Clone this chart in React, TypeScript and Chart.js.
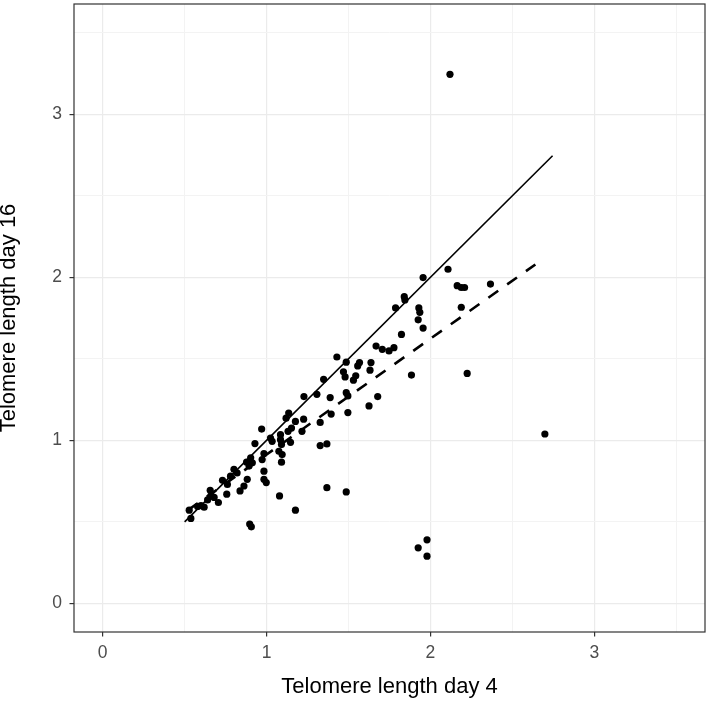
import React, { useEffect, useRef } from "react";
import { Chart, registerables } from "chart.js";

Chart.register(...registerables);

// Telomere length day 4 (x) and day 16 (y)
const day4 = [
  0.528, 0.538, 0.579, 0.619, 0.640, 0.656, 0.660, 0.706, 0.731, 0.761,
  0.757, 0.801, 0.838, 0.862, 0.882, 0.878, 0.680, 0.600, 0.780, 0.820,
  0.903, 0.913, 0.893, 0.929, 0.970, 0.984, 0.973, 0.984, 0.984, 0.998,
  1.024, 1.034, 1.085, 1.085, 1.091, 1.075, 1.095, 1.091, 1.146, 1.079,
  1.135, 1.119, 1.176, 1.226, 1.152, 1.131, 1.216, 1.228, 1.307, 1.327,
  1.327, 0.897, 0.907, 1.176, 1.368, 1.368, 1.486, 1.348, 1.388, 1.394,
  1.429, 1.486, 1.567, 1.556, 1.637, 1.631, 1.469, 1.479, 1.544, 1.530,
  1.486, 1.496, 1.678, 1.625, 1.496, 1.668, 1.706, 1.747, 1.777, 1.823,
  1.884, 2.224, 1.787, 1.840, 1.844, 1.929, 1.935, 1.925, 1.955, 1.955,
  2.107, 2.163, 2.188, 2.208, 2.366, 2.188, 2.698, 1.925, 1.979, 1.979,
  2.119,
];
const day16 = [
  0.572, 0.521, 0.595, 0.590, 0.635, 0.694, 0.659, 0.619, 0.755, 0.730,
  0.670, 0.822, 0.690, 0.720, 0.761, 0.866, 0.650, 0.600, 0.780, 0.800,
  0.893, 0.862, 0.842, 0.980, 1.069, 0.919, 0.882, 0.811, 0.761, 0.741,
  1.014, 0.994, 1.035, 1.004, 0.974, 0.933, 0.913, 0.866, 0.988, 0.659,
  1.167, 1.136, 1.116, 1.130, 1.075, 1.055, 1.055, 1.268, 1.282, 1.110,
  0.968, 0.487, 0.470, 0.572, 0.978, 0.710, 0.684, 1.374, 1.262, 1.161,
  1.511, 1.479, 1.477, 1.456, 1.477, 1.430, 1.420, 1.389, 1.396, 1.369,
  1.292, 1.272, 1.268, 1.211, 1.170, 1.578, 1.558, 1.548, 1.568, 1.649,
  1.400, 1.410, 1.812, 1.881, 1.861, 1.812, 1.785, 1.739, 1.688, 1.998,
  2.049, 1.948, 1.937, 1.937, 1.958, 1.816, 1.039, 0.341, 0.390, 0.290,
  3.244,
];

// identity line (solid) and fitted line (dashed)
const identityX = [0.5, 2.745];
const identityY = [0.5, 2.745];
const fitX = [0.52, 2.64];
const fitY = [0.572, 2.078];

const majorTicks = [0, 1, 2, 3];
const minorTicks = [0.5, 1.5, 2.5, 3.5];
const axisMin = -0.175;
const axisMax = 3.675;

const xTitle = "Telomere length day 4";
const yTitle = "Telomere length day 16";

const FONT = "'Liberation Sans', Arial, Helvetica, sans-serif";

const isMajor = (v: number) => majorTicks.includes(v);

const borderPlugin = {
  id: "panelBorder",
  afterDatasetsDraw(chart: any) {
    const { ctx, chartArea } = chart;
    ctx.save();
    ctx.strokeStyle = "#333333";
    ctx.lineWidth = 1.2;
    ctx.strokeRect(
      chartArea.left,
      chartArea.top,
      chartArea.right - chartArea.left,
      chartArea.bottom - chartArea.top
    );
    ctx.restore();
  },
};

export default function App() {
  const ref = useRef<HTMLCanvasElement | null>(null);

  useEffect(() => {
    if (!ref.current) return;
    const allTicks = [...majorTicks, ...minorTicks].sort((a, b) => a - b);
    const gridOpts = {
      drawOnChartArea: true,
      drawTicks: true,
      tickLength: 4.5,
      tickWidth: 1.2,
      color: (c: any) => (c.tick && isMajor(c.tick.value) ? "#EBEBEB" : "#F3F3F3"),
      lineWidth: (c: any) => (c.tick && isMajor(c.tick.value) ? 1.2 : 1),
      tickColor: (c: any) => (c.tick && isMajor(c.tick.value) ? "#333333" : "rgba(0,0,0,0)"),
    };
    const tickCb = (v: any) => (isMajor(Number(v)) ? String(v) : "");
    const chart = new Chart(ref.current, {
      type: "scatter",
      data: {
        datasets: [
          {
            label: "identity",
            type: "line",
            data: identityX.map((x, i) => ({ x, y: identityY[i] })),
            borderColor: "#000000",
            borderWidth: 1.6,
            pointRadius: 0,
            fill: false,
            order: 0,
          } as any,
          {
            label: "fit",
            type: "line",
            data: fitX.map((x, i) => ({ x, y: fitY[i] })),
            borderColor: "#000000",
            borderWidth: 2.6,
            borderDash: [12, 11],
            pointRadius: 0,
            fill: false,
            order: 0,
          } as any,
          {
            label: "samples",
            data: day4.map((x, i) => ({ x, y: day16[i] })),
            backgroundColor: "#000000",
            borderWidth: 0,
            pointRadius: 3.6,
            order: 1,
          },
        ],
      },
      options: {
        responsive: false,
        animation: false,
        devicePixelRatio: 1,
        layout: { padding: { top: 3, right: 2, left: 0, bottom: 0 } },
        plugins: {
          legend: { display: false },
          tooltip: { enabled: false },
        },
        scales: {
          x: {
            type: "linear",
            min: axisMin,
            max: axisMax,
            border: { display: false },
            grid: gridOpts as any,
            afterBuildTicks: (s: any) => {
              s.ticks = allTicks.map((v) => ({ value: v }));
            },
            afterFit: (s: any) => {
              s.height = 71;
              s.paddingLeft = 0;
              s.paddingRight = 0;
              s.paddingTop = 0;
              s.paddingBottom = 0;
            },
            ticks: {
              autoSkip: false,
              maxRotation: 0,
              padding: 6,
              color: "#4D4D4D",
              font: { family: FONT, size: 17.5 },
              callback: tickCb,
            },
            title: {
              display: true,
              text: xTitle,
              color: "#000000",
              font: { family: FONT, size: 22, lineHeight: 1.2 },
              padding: { top: 0, bottom: 2.8 },
            },
          },
          y: {
            type: "linear",
            min: axisMin,
            max: axisMax,
            border: { display: false },
            grid: gridOpts as any,
            afterBuildTicks: (s: any) => {
              s.ticks = allTicks.map((v) => ({ value: v }));
            },
            afterFit: (s: any) => {
              s.width = 74;
              s.paddingLeft = 0;
              s.paddingRight = 0;
              s.paddingTop = 0;
              s.paddingBottom = 0;
            },
            ticks: {
              autoSkip: false,
              padding: 7.5,
              color: "#4D4D4D",
              font: { family: FONT, size: 17.5 },
              callback: tickCb,
            },
            title: {
              display: true,
              text: yTitle,
              color: "#000000",
              font: { family: FONT, size: 22, lineHeight: 0.8 },
              padding: { top: 0, bottom: 0 },
            },
          },
        },
      },
      plugins: [borderPlugin],
    });
    return () => chart.destroy();
  }, []);

  return (
    <div style={{ position: "fixed", left: 0, top: 0, width: 709, height: 703, background: "#ffffff" }}>
      <canvas ref={ref} width={709} height={703} style={{ display: "block", width: 709, height: 703 }} />
    </div>
  );
}
